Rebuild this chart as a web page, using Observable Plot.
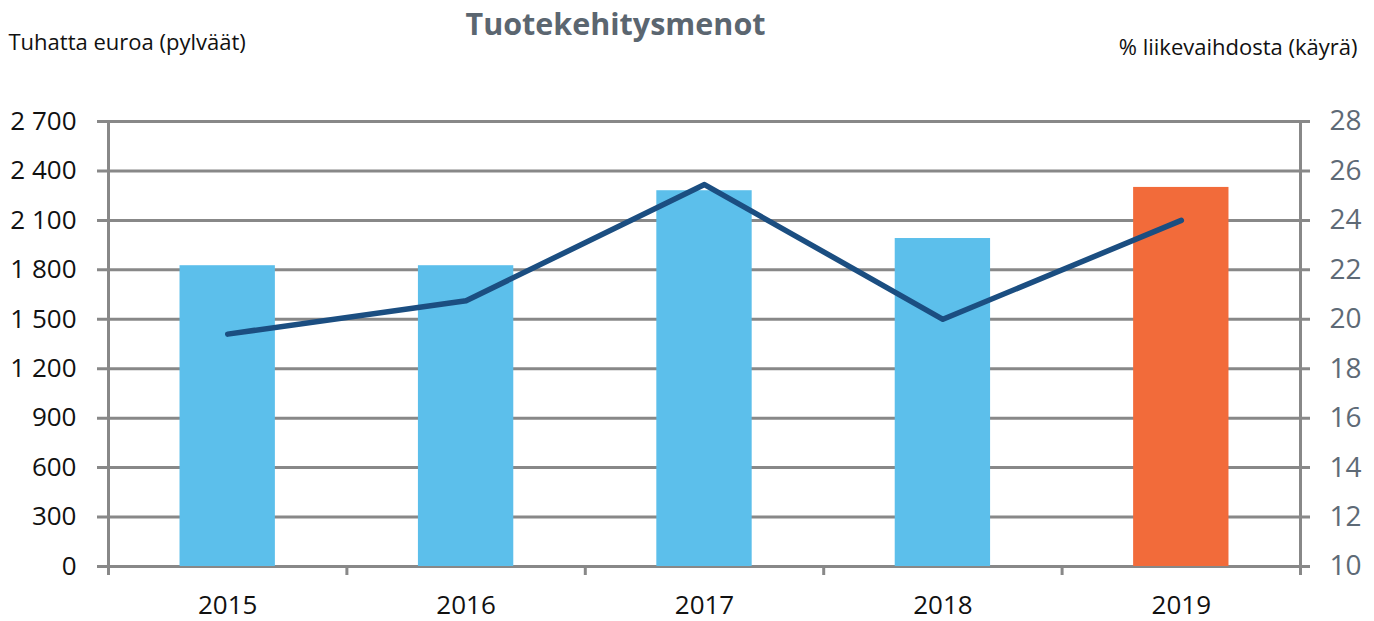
<!DOCTYPE html>
<html>
<head>
<meta charset="utf-8">
<script src="https://cdn.jsdelivr.net/npm/d3@7"></script>
<script src="https://cdn.jsdelivr.net/npm/@observablehq/plot@0.6"></script>
<style>
  html, body { margin: 0; padding: 0; background: #fff; }
  svg { display: block; }
</style>
</head>
<body>
<div id="chart"></div>
<script>
// ---- data ----
const years = [2015, 2016, 2017, 2018, 2019];
const spending = [1825, 1825, 2280, 1990, 2300];      // tuhatta euroa (bars)
const pctOfSales = [19.4, 20.75, 25.45, 20.0, 24.0];  // % liikevaihdosta (line)
const highlightYear = 2019;
const leftTicks = [0, 300, 600, 900, 1200, 1500, 1800, 2100, 2400, 2700];
const rightTicks = [10, 12, 14, 16, 18, 20, 22, 24, 26, 28];
const title = "Tuotekehitysmenot";
const leftLabel = "Tuhatta euroa (pylväät)";
const rightLabel = "% liikevaihdosta (käyrä)";

// secondary axis mapping: percent -> left-axis units
const pMin = 10, pMax = 28, yMax = 2700;
const toY = p => (p - pMin) / (pMax - pMin) * yMax;
const fromY = v => pMin + v / yMax * (pMax - pMin);

const rows = years.map((year, i) => ({ year, i, value: spending[i], pct: pctOfSales[i] }));
const fmt = d3.formatLocale({ decimal: ",", thousands: "\u00a0", grouping: [3], currency: ["", "€"] }).format(",");

const grey = "#888888";
const font = "'Open Sans', 'Noto Sans', sans-serif";

const chart = Plot.plot({
  width: 1374,
  height: 621,
  marginLeft: 108,
  marginRight: 74,
  marginTop: 121,
  marginBottom: 55,
  style: { fontFamily: font, background: "#fff", overflow: "visible" },
  x: { type: "linear", domain: [0, years.length], axis: null },
  y: { domain: [0, yMax], axis: null },
  marks: [
    // horizontal gridlines (with outward ticks both sides)
    Plot.ruleY(leftTicks, { stroke: grey, strokeWidth: 3, insetLeft: -11, insetRight: -10 }),
    // vertical axis lines
    Plot.ruleX([0, years.length], { stroke: grey, strokeWidth: 3, insetBottom: -9 }),
    // category boundary ticks
    Plot.ruleX(d3.range(1, years.length), { y1: 0, y2: 0, stroke: grey, strokeWidth: 3, insetBottom: -9 }),
    // bars
    Plot.rectY(rows, {
      x1: d => d.i + 0.3, x2: d => d.i + 0.7, y1: 0, y2: "value",
      fill: d => d.year === highlightYear ? "#F26B3A" : "#5CBFEB"
    }),
    // line (secondary axis)
    Plot.line(rows, {
      x: d => d.i + 0.5, y: d => toY(d.pct),
      stroke: "#1B4E81", strokeWidth: 5.5, strokeLinecap: "round", strokeLinejoin: "round"
    }),
    // left axis labels
    Plot.axisY({
      anchor: "left", ticks: leftTicks, tickSize: 0, tickPadding: 32,
      tickFormat: d => fmt(d), fontSize: 26, fill: "#111", label: null
    }),
    // right axis labels
    Plot.axisY({
      anchor: "right", ticks: rightTicks.map(toY), tickSize: 0, tickPadding: 29,
      tickFormat: v => String(Math.round(fromY(v))), fontSize: 28, fill: "#5E6A76", label: null
    }),
    // year labels
    Plot.text(rows, {
      x: d => d.i + 0.5, text: d => String(d.year), frameAnchor: "bottom",
      dy: 39, lineAnchor: "middle", fontSize: 26, fill: "#111"
    }),
    // title & axis titles
    Plot.text([title], {
      frameAnchor: "top", dx: -89, dy: -96, lineAnchor: "middle",
      fontSize: 30.5, fontWeight: "bold", fill: "#5B6670"
    }),
    Plot.text([leftLabel], {
      frameAnchor: "top-left", textAnchor: "start", dx: -100, dy: -79, lineAnchor: "middle",
      fontSize: 22, fill: "#111"
    }),
    Plot.text([rightLabel], {
      frameAnchor: "top-right", textAnchor: "end", dx: 57, dy: -74, lineAnchor: "middle",
      fontSize: 22, fill: "#111"
    })
  ]
});
document.getElementById("chart").append(chart);
</script>
</body>
</html>
